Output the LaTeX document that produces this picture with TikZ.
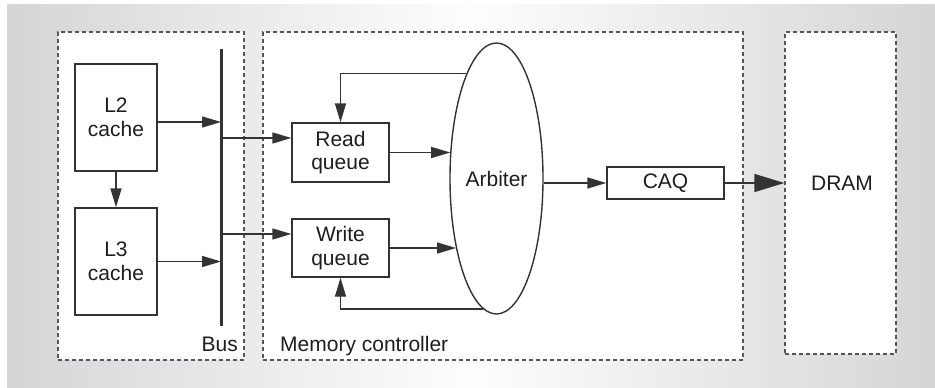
\documentclass[tikz,border=0pt]{standalone}
\usepackage{fontspec}
\setmainfont{Liberation Sans}
\usetikzlibrary{arrows.meta,shapes.geometric,calc}
\definecolor{edgegray}{HTML}{D4D5D7}
\definecolor{linegray}{HTML}{333333}
\definecolor{dashgray}{HTML}{555555}
\definecolor{inkgray}{HTML}{1E1E1E}
\tikzset{
  unit/.style={draw=linegray, line width=1.4pt, fill=white, inner sep=0pt,
    align=center, text=inkgray, font=\fontsize{21}{23.5}\selectfont},
  region/.style={draw=dashgray, line width=1.2pt, dash pattern=on 4pt off 3pt,
    fill=white, inner sep=0pt},
  lbl/.style={inner sep=0pt, text=inkgray, font=\fontsize{21}{23.5}\selectfont},
  arr/.style={draw=linegray, line width=1.4pt,
    -{Triangle[length=19pt,width=11pt]}},
  bigarr/.style={draw=linegray, line width=1.4pt,
    -{Triangle[length=30pt,width=18pt]}},
}
\begin{document}
\begin{tikzpicture}[x=1pt,y=-1pt]
\useasboundingbox (0,0) rectangle (935,388);
% shaded backdrop
\shade[left color=edgegray, right color=edgegray, middle color=white!97!edgegray]
  (7,4) rectangle (935,388);

% dashed regions
\node[region, minimum width=186pt, minimum height=328pt] (cpu) at (151,196) {};
\node[region, minimum width=480pt, minimum height=328pt] (mc) at (503,196) {};
\node[region, minimum width=111pt, minimum height=322pt] (dramb) at (840.5,193) {};

% caches and bus
\node[unit, minimum width=82pt, minimum height=107pt] (l2) at (116,117.5) {L2\\cache};
\node[unit, minimum width=82pt, minimum height=107pt] (l3) at (116,261.5) {L3\\cache};
\coordinate (bus) at (221,49);
\coordinate (busend) at (221,326);
\draw[linegray, line width=3pt] (bus) -- (busend);

% memory controller parts
\node[unit, minimum width=97pt, minimum height=59pt] (read) at (340.5,152.5) {Read\\queue};
\node[unit, minimum width=97pt, minimum height=58pt] (write) at (340.5,248) {Write\\queue};
\node[unit, ellipse, minimum width=93pt, minimum height=271pt] (arb) at (496.5,178.5) {Arbiter};
\node[unit, minimum width=117pt, minimum height=32pt] (caq) at (665.5,183) {CAQ};
\node[lbl] (dram) at (842,183) {DRAM};

% labels
\node[lbl, anchor=base east] (buslbl) at (238,351) {Bus};
\node[lbl, anchor=base west] (mclbl) at (280,351) {Memory controller};

% connectors
\coordinate (l2out) at ([yshift=-4.5pt]l2.east);
\draw[arr] (l2out) -- (l2out -| bus);
\draw[arr] (l3.east) -- (l3.east -| bus);
\draw[arr] (l2.south) -- (l3.north);

\coordinate (rin) at ([yshift=14.5pt]read.west);
\coordinate (win) at ([yshift=14pt]write.west);
\draw[arr] (rin -| bus) -- (rin);
\draw[arr] (win -| bus) -- (win);

\draw[arr] (read.east) -- (read.east -| arb.150);
\draw[arr] (write.east) -- (write.east -| arb.240);
\draw[arr] (arb.106) -| (read.north);
\draw[arr] (arb.264) -| (write.south);

\draw[arr] (caq.west -| arb.east) -- (caq.west);
\draw[bigarr] (caq.east) -- (caq.east -| dramb.west);
\end{tikzpicture}
\end{document}
